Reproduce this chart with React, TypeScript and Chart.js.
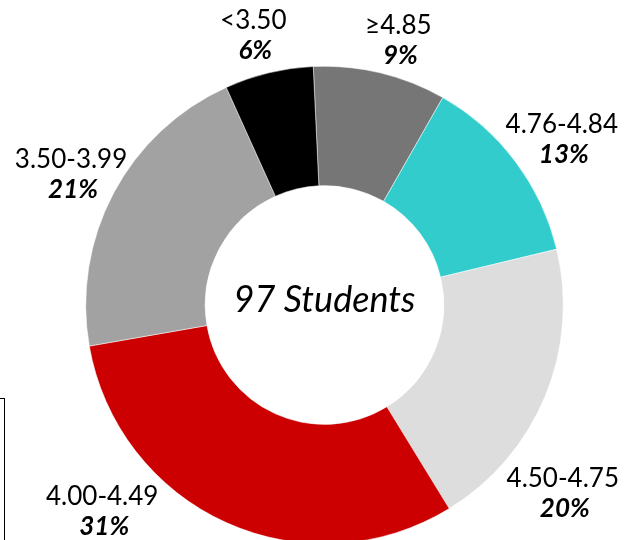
import React, { useEffect, useRef } from "react";
import { Chart, registerables } from "chart.js";

Chart.register(...registerables);

// ---- data ----
const categories = ["≥4.85", "4.76-4.84", "4.50-4.75", "4.00-4.49", "3.50-3.99", "<3.50"];
const percents = [9, 13, 20, 31, 21, 6];
const centerLabel = "97 Students";

// ---- styles ----
const colors = ["#767676", "#33CCCC", "#DDDDDD", "#CC0000", "#A2A2A2", "#000000"];
// label placement relative to each arc: angle shift (deg) from mid-angle, distance beyond outer radius (px)
const labelAngleShift = [2.1, 2.0, 15.9, 22.8, -0.7, -1.3];
const labelRadialGap = [35.8, 50.6, 65.3, 64.7, 46.2, 40];

const labelPlugin = {
  id: "donutLabels",
  afterDraw(chart: any) {
    const ctx = chart.ctx;
    const meta = chart.getDatasetMeta(0);
    const arcs = meta.data;
    if (!arcs.length) return;
    ctx.save();
    ctx.fillStyle = "#000";
    ctx.textAlign = "center";
    ctx.textBaseline = "alphabetic";
    arcs.forEach((arc: any, i: number) => {
      const { x, y, startAngle, endAngle, outerRadius } = arc.getProps(
        ["x", "y", "startAngle", "endAngle", "outerRadius"],
        true
      );
      const a = (startAngle + endAngle) / 2 + (labelAngleShift[i] * Math.PI) / 180;
      const r = outerRadius + labelRadialGap[i];
      const lx = x + r * Math.cos(a);
      const ly = y + r * Math.sin(a);
      ctx.font = "26px Lato";
      ctx.fillText(categories[i], lx, ly - 6.5);
      ctx.font = "italic bold 26px Lato";
      ctx.fillText(percents[i] + "%", lx + 2, ly + 23.5);
    });
    const c = arcs[0];
    ctx.font = "italic 36px Lato";
    ctx.fillText(centerLabel, c.x, c.y + 6.7);
    ctx.restore();
  },
};

export default function App() {
  const ref = useRef<HTMLCanvasElement | null>(null);
  useEffect(() => {
    if (!ref.current) return;
    const chart = new Chart(ref.current, {
      type: "doughnut",
      data: {
        labels: categories,
        datasets: [
          {
            data: percents,
            backgroundColor: colors,
            borderColor: "#ffffff",
            borderWidth: 0.5,
            hoverOffset: 0,
            hoverBorderWidth: 0.5,
          },
        ],
      },
      options: {
        animation: false,
        responsive: true,
        maintainAspectRatio: false,
        rotation: -2.7,
        cutout: "50%",
        layout: { padding: 66 },
        plugins: {
          legend: { display: false },
          tooltip: { enabled: false },
        },
        events: [],
      },
      plugins: [labelPlugin],
    });
    return () => chart.destroy();
  }, []);

  return (
    <div
      style={{
        position: "absolute",
        left: 0,
        top: 0,
        width: 634,
        height: 540,
        overflow: "hidden",
        background: "#fff",
      }}
    >
      <div style={{ position: "absolute", left: 0, top: 0, width: 649, height: 610 }}>
        <canvas ref={ref} />
      </div>
      <div
        style={{
          position: "absolute",
          left: -20,
          top: 398,
          width: 25,
          height: 300,
          boxSizing: "border-box",
          borderTop: "1.5px solid #000",
          borderRight: "1.5px solid #000",
        }}
      />
    </div>
  );
}
